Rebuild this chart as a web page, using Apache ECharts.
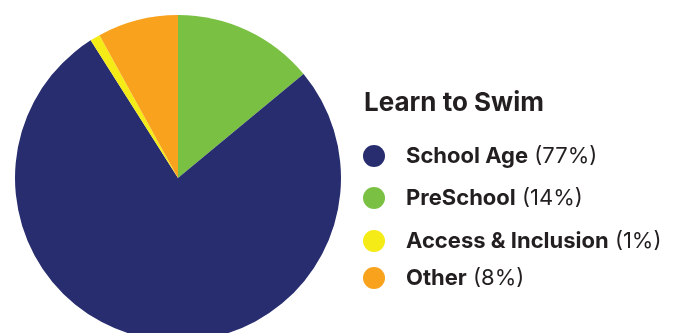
<!DOCTYPE html>
<html>
<head>
<meta charset="utf-8">
<script src="https://cdn.jsdelivr.net/npm/echarts@6/dist/echarts.min.js"></script>
<style>
  html, body { margin: 0; padding: 0; background: #fff; }
  #chart { width: 674px; height: 333px; }
</style>
</head>
<body>
<div id="chart"></div>
<script>
// Learn to Swim participation split (percent)
const title = 'Learn to Swim';
const categories = ['PreSchool', 'School Age', 'Access & Inclusion', 'Other'];
const values = [14, 77, 1, 8];
const colors = ['#7AC143', '#272D6E', '#F5EB17', '#F8A21D'];
const legendOrder = ['School Age', 'PreSchool', 'Access & Inclusion', 'Other'];
const legendTops = [140, 182, 225, 262];

const FONT = 'Inter, "Noto Sans", sans-serif';
const TEXT = '#231F20';

const pctOf = name => values[categories.indexOf(name)];

const legends = legendOrder.map((name, i) => ({
  data: [name],
  orient: 'vertical',
  left: 358,
  top: legendTops[i],
  icon: 'circle',
  itemWidth: 22,
  itemHeight: 22,
  selectedMode: false,
  formatter: n => `{n|${n}}{v| (${pctOf(n)}%)}`,
  textStyle: {
    padding: [0, 0, 0, 16],
    rich: {
      n: { fontFamily: FONT, fontSize: 22, fontWeight: 700, color: TEXT, lineHeight: 22 },
      v: { fontFamily: FONT, fontSize: 22, fontWeight: 400, color: TEXT, lineHeight: 22 }
    }
  }
}));

const chart = echarts.init(document.getElementById('chart'), null, { renderer: 'canvas' });
chart.setOption({
  animation: false,
  title: {
    text: title,
    left: 359,
    top: 85,
    textStyle: { fontFamily: FONT, fontSize: 26, fontWeight: 700, color: TEXT }
  },
  legend: legends,
  series: [{
    type: 'pie',
    center: [178, 178],
    radius: 163,
    startAngle: 90,
    clockwise: true,
    label: { show: false },
    labelLine: { show: false },
    emphasis: { disabled: true },
    itemStyle: { borderWidth: 0 },
    data: categories.map((c, i) => ({ name: c, value: values[i], itemStyle: { color: colors[i] } }))
  }]
});
</script>
</body>
</html>
